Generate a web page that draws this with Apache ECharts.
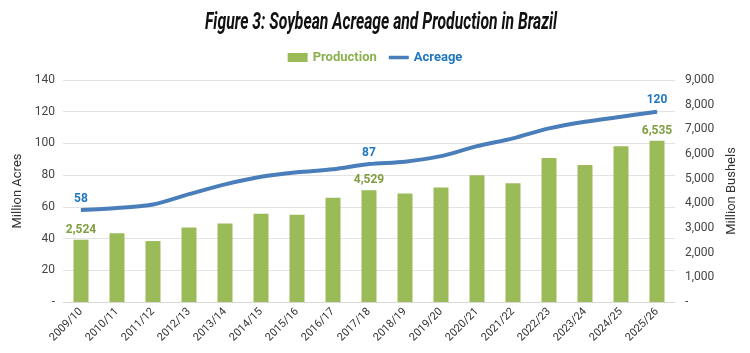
<!DOCTYPE html>
<html>
<head>
<meta charset="utf-8">
<script src="https://cdn.jsdelivr.net/npm/echarts@6/dist/echarts.min.js"></script>
<style>
  html, body { margin: 0; padding: 0; background: #fff; }
  #chart { width: 750px; height: 353px; }
</style>
</head>
<body>
<div id="chart"></div>
<script>
// 巴西大豆面积与产量
const years = ['2009/10', '2010/11', '2011/12', '2012/13', '2013/14', '2014/15', '2015/16', '2016/17', '2017/18',
  '2018/19', '2019/20', '2020/21', '2021/22', '2022/23', '2023/24', '2024/25', '2025/26'];
const production = [2524, 2790, 2470, 3020, 3180, 3580, 3540, 4230, 4529, 4400, 4640, 5140, 4810, 5840, 5550, 6310, 6535];
const acreage = [58, 59.3, 61.5, 68, 74.2, 79, 81.8, 83.7, 87, 88.5, 92, 98.3, 103.2, 109.5, 113.7, 116.8, 120];
const labelIdx = [0, 8, 16];
const leftTicks = [0, 20, 40, 60, 80, 100, 120, 140];
const rightTicks = [0, 1000, 2000, 3000, 4000, 5000, 6000, 7000, 8000, 9000];

const titleText = 'Figure 3: Soybean Acreage and Production in Brazil';
const titleFont = 'italic bold 23px Roboto';

const chart = echarts.init(document.getElementById('chart'));

// 标题字体压窄，用 canvas 量宽度
const ctx = document.createElement('canvas').getContext('2d');
ctx.font = titleFont;
const titleScale = 352 / ctx.measureText(titleText).width;

const fmt = v => (v === 0 ? '-' : v.toLocaleString('en-US'));

const option = {
  animation: false,
  graphic: [
    {
      type: 'text',
      x: 381,
      y: 23,
      scaleX: titleScale,
      style: {
        x: 0,
        y: 0,
        text: titleText,
        font: titleFont,
        fill: '#111',
        align: 'center',
        verticalAlign: 'middle'
      }
    }
  ],
  legend: {
    top: 46,
    left: 'center',
    itemGap: 12,
    itemWidth: 20,
    itemHeight: 9,
    textStyle: { fontFamily: 'Roboto', fontWeight: 'bold', fontSize: 13 },
    data: [
      { name: 'Production', icon: 'rect', textStyle: { color: '#8db04f' } },
      { name: 'Acreage', icon: 'path://M0,0H40V7H0Z', textStyle: { color: '#1f77c0' } }
    ]
  },
  grid: { left: 63, right: 75, top: 80, bottom: 51 },
  xAxis: {
    type: 'category',
    data: years,
    axisTick: { show: false },
    axisLine: { lineStyle: { color: '#d9d9d9' } },
    axisLabel: { rotate: 45, color: '#333', fontSize: 11, fontFamily: 'Roboto', margin: 8 }
  },
  yAxis: [
    {
      type: 'value',
      name: 'Million Acres',
      nameLocation: 'middle',
      nameGap: 35,
      nameTextStyle: { fontSize: 13, color: '#333', fontFamily: 'Roboto' },
      min: leftTicks[0],
      max: leftTicks[leftTicks.length - 1],
      interval: 20,
      axisLabel: { formatter: fmt, color: '#444', fontSize: 12, fontFamily: 'Roboto' },
      splitLine: { lineStyle: { color: '#e3e3e3' } }
    },
    {
      type: 'value',
      name: 'Million Bushels',
      nameLocation: 'middle',
      nameGap: 45,
      nameTextStyle: { fontSize: 13, color: '#333', fontFamily: 'Roboto' },
      min: rightTicks[0],
      max: rightTicks[rightTicks.length - 1],
      interval: 1000,
      axisLabel: { formatter: fmt, color: '#444', fontSize: 12, fontFamily: 'Roboto', margin: 10 },
      splitLine: { show: false }
    }
  ],
  series: [
    {
      name: 'Production',
      type: 'bar',
      yAxisIndex: 1,
      barWidth: 15,
      itemStyle: { color: '#9bbb59' },
      data: production.map((v, i) => ({
        value: v,
        label: { show: labelIdx.includes(i) }
      })),
      label: {
        position: 'top',
        distance: 4,
        formatter: p => p.value.toLocaleString('en-US'),
        color: '#7f9f41',
        fontWeight: 'bold',
        fontSize: 12,
        fontFamily: 'Roboto'
      }
    },
    {
      name: 'Acreage',
      type: 'line',
      yAxisIndex: 0,
      smooth: 0.3,
      symbol: 'circle',
      symbolSize: 1,
      showSymbol: true,
      lineStyle: { color: '#4a7ebb', width: 4 },
      itemStyle: { color: '#4a7ebb' },
      data: acreage.map((v, i) => ({
        value: v,
        label: { show: labelIdx.includes(i) }
      })),
      label: {
        position: 'top',
        distance: 5,
        formatter: p => Math.round(p.value),
        color: '#1f77c0',
        fontWeight: 'bold',
        fontSize: 12,
        fontFamily: 'Roboto'
      }
    }
  ]
};

chart.setOption(option);
</script>
</body>
</html>
